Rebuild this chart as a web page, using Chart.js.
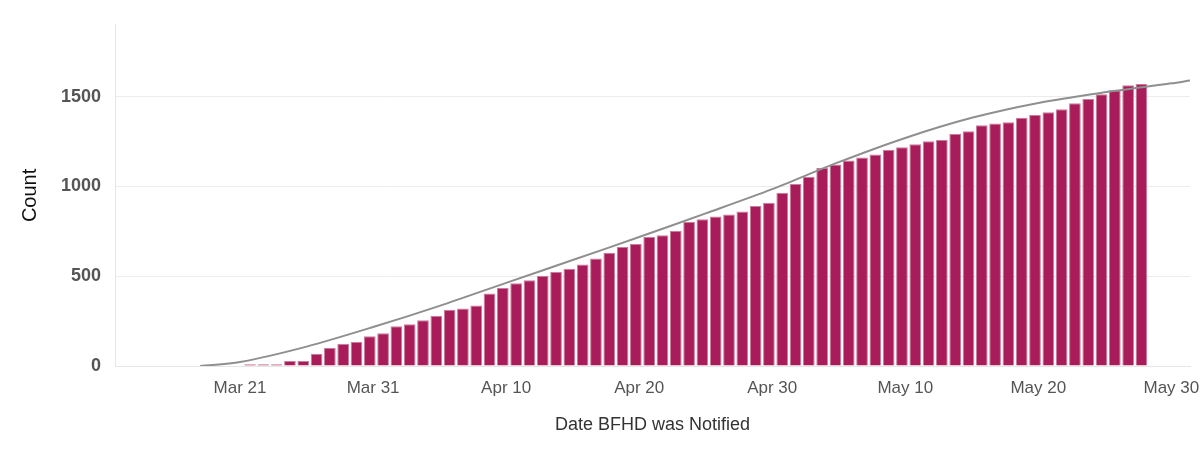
<!DOCTYPE html>
<html><head><script src="https://cdn.jsdelivr.net/npm/chart.js@4"></script>
<style>html,body{margin:0;background:#fff}#w{width:1200px;height:451px}</style></head>
<body><div id="w"><canvas id="c"></canvas></div>
<script>
// day 0 = Mar 21
const barDays = Array.from({length:68},(_,i)=>i+0.75);
const counts = [10,10,10,28,28,68,100,124,133,165,182,222,232,255,280,313,320,337,404,435,461,478,502,524,541,
 565,598,630,663,680,718,728,752,802,817,833,843,860,891,909,965,1013,1054,1102,1122,1144,1161,1178,1204,
 1218,1235,1252,1259,1293,1307,1341,1350,1357,1382,1398,1413,1430,1463,1487,1513,1535,1563,1570];
const trendDays = [-3,0,5,10,15,20,25,30,35,40,45,50,55,60,65,70,71.4];
const trendVals = [0,22,108,217,335,463,590,718,850,985,1135,1270,1382,1465,1524,1574,1590];
const tickLabels = {0:'Mar 21',10:'Mar 31',20:'Apr 10',30:'Apr 20',40:'Apr 30',50:'May 10',60:'May 20',70:'May 30'};
new Chart(document.getElementById('c'),{
 data:{datasets:[
  {type:'line',data:trendDays.map((d,i)=>({x:d,y:trendVals[i]})),borderColor:'#8f8f8f',borderWidth:2,pointRadius:0,tension:0.3},
  {type:'bar',data:barDays.map((d,i)=>({x:d,y:counts[i]})),backgroundColor:'#A81C5A',borderColor:'#c97d9d',borderWidth:{top:1,left:1,right:1,bottom:0},barPercentage:0.88,categoryPercentage:1}
 ]},
 options:{responsive:true,maintainAspectRatio:false,animation:false,
  layout:{padding:{top:2,right:10,left:14,bottom:11}},
  plugins:{legend:{display:false},tooltip:{enabled:false}},
  scales:{
   x:{type:'linear',offset:false,min:-9.4,max:71.4,grid:{display:false},border:{color:'#e6e6e6'},
      afterBuildTicks:s=>{s.ticks=[0,10,20,30,40,50,60,70].map(v=>({value:v}));},
      afterFit:s=>{s.paddingLeft=0;s.paddingRight=0;},
      ticks:{color:'#555',font:{family:'Liberation Sans',size:17},callback:v=>tickLabels[v]||'',maxRotation:0,padding:4},
      title:{display:true,text:'Date BFHD was Notified',color:'#333',font:{family:'Liberation Sans',size:18},padding:{top:12,bottom:4}}},
   y:{min:0,max:1900,grid:{color:'#ececec',drawTicks:false},border:{display:true,color:'#e6e6e6'},
      afterBuildTicks:s=>{s.ticks=[0,500,1000,1500].map(v=>({value:v}));},
      afterFit:s=>{s.width=101;},
      ticks:{color:'#555',font:{family:'Liberation Sans',size:18,weight:'bold'},padding:14,callback:v=>String(v)},
      title:{display:true,text:'Count',color:'#111',font:{family:'Liberation Sans',size:20}}}
  }}
});
</script></body></html>
